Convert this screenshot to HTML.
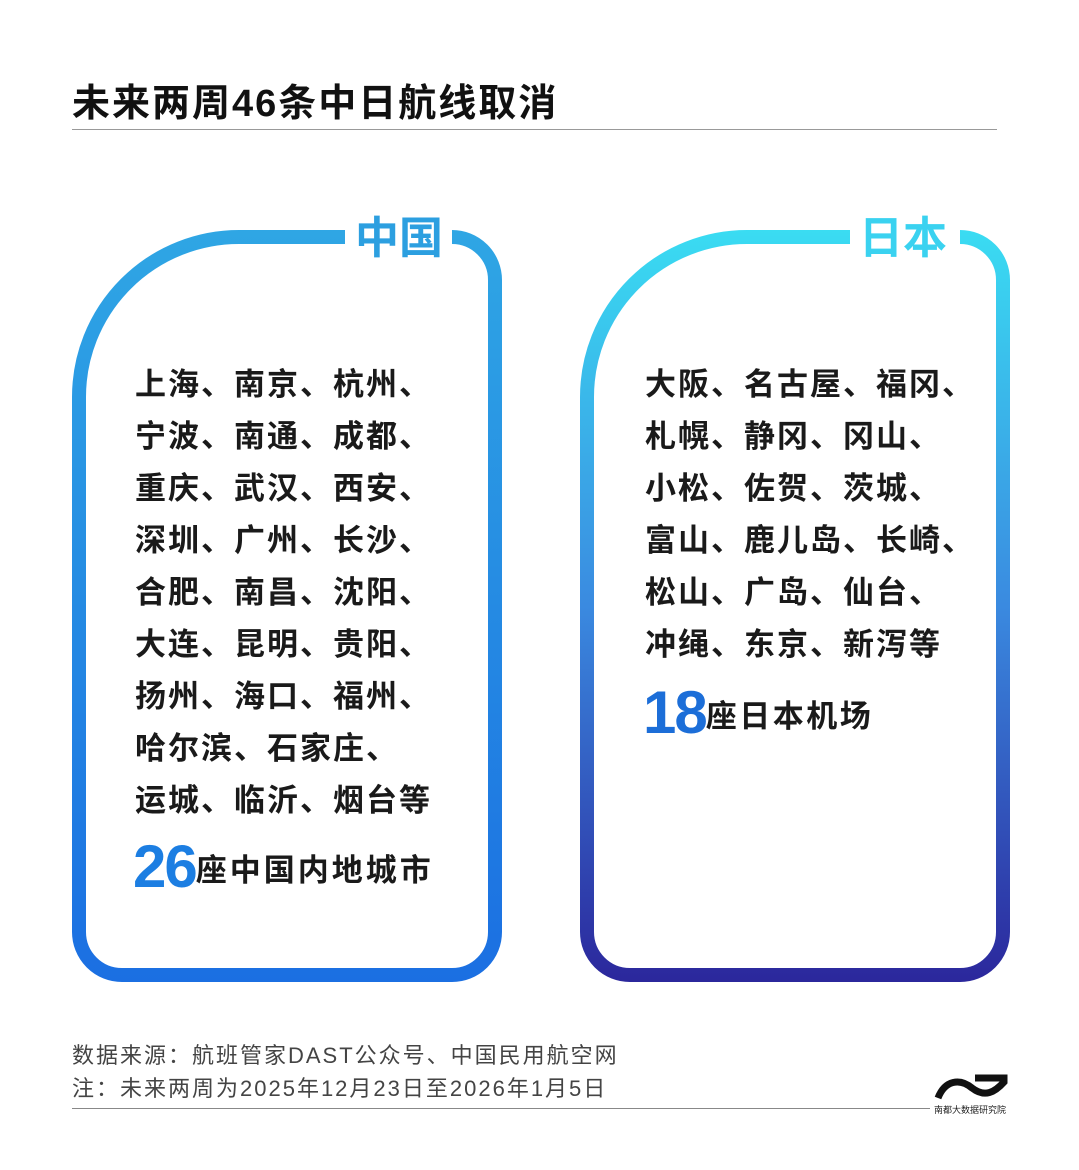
<!DOCTYPE html>
<html><head><meta charset="utf-8"><style>
body{margin:0;width:1079px;height:1170px;background:#fff;position:relative;overflow:hidden;font-family:"Liberation Sans","Noto Sans CJK SC",sans-serif}
.t{position:absolute;white-space:nowrap}
.title{left:72px;top:72px;font-size:38px;font-weight:bold;color:#111;letter-spacing:2px}
.list{font-size:31px;font-weight:bold;color:#1a1a1a;line-height:52px;letter-spacing:2px}
.foot{font-size:22px;color:#444;line-height:33px;left:72px;top:1039px;letter-spacing:2px}
</style></head><body>
<div class="t title">未来两周46条中日航线取消</div>
<div style="position:absolute;left:72px;top:129px;width:925px;height:1px;background:#999"></div>
<svg width="1079" height="1170" style="position:absolute;left:0;top:0">
<defs>
<linearGradient id="g1" gradientUnits="userSpaceOnUse" x1="0" y1="230" x2="0" y2="982"><stop offset="0" stop-color="#2fa6e4"/><stop offset="1" stop-color="#1b6fe2"/></linearGradient>
<linearGradient id="g2" gradientUnits="userSpaceOnUse" x1="0" y1="230" x2="0" y2="982"><stop offset="0" stop-color="#3adcf2"/><stop offset="0.5" stop-color="#3a8ae0"/><stop offset="1" stop-color="#2b279c"/></linearGradient>
</defs>
<path d="M452 237 A43 43 0 0 1 495 280 L495 932 A43 43 0 0 1 452 975 L122 975 A43 43 0 0 1 79 932 L79 397 A160 160 0 0 1 239 237 L345 237" fill="none" stroke="url(#g1)" stroke-width="14"/>
<path d="M960 237 A43 43 0 0 1 1003 280 L1003 932 A43 43 0 0 1 960 975 L630 975 A43 43 0 0 1 587 932 L587 397 A160 160 0 0 1 747 237 L850 237" fill="none" stroke="url(#g2)" stroke-width="14"/>
<text x="399" y="253" text-anchor="middle" font-size="44" font-weight="bold" fill="#2c9fe0" font-family="Liberation Sans, Noto Sans CJK SC, sans-serif">中国</text>
<text x="903" y="253" text-anchor="middle" font-size="44" font-weight="bold" fill="#3ad2f0" font-family="Liberation Sans, Noto Sans CJK SC, sans-serif">日本</text>
<path d="M938 1098 C945 1080 960 1078 972 1088 C985 1098 995 1092 1004 1082 L1004 1078 L975 1078" fill="none" stroke="#111" stroke-width="7"/>
<text x="970" y="1113" text-anchor="middle" font-size="9" fill="#222" font-family="Noto Sans CJK SC, sans-serif">南都大数据研究院</text>
</svg>
<div class="t list" style="left:135px;top:359px">上海、南京、杭州、<br>宁波、南通、成都、<br>重庆、武汉、西安、<br>深圳、广州、长沙、<br>合肥、南昌、沈阳、<br>大连、昆明、贵阳、<br>扬州、海口、福州、<br>哈尔滨、石家庄、<br>运城、临沂、烟台等</div>
<div class="t" style="left:133px;top:832px;font-weight:bold;color:#1a1a1a;font-size:31px;letter-spacing:3px"><span style="font-size:60px;color:#1c7ee2;letter-spacing:-2px;vertical-align:-6px">26</span>座中国内地城市</div>
<div class="t list" style="left:645px;top:359px">大阪、名古屋、福冈、<br>札幌、静冈、冈山、<br>小松、佐贺、茨城、<br>富山、鹿儿岛、长崎、<br>松山、广岛、仙台、<br>冲绳、东京、新泻等</div>
<div class="t" style="left:643px;top:678px;font-weight:bold;color:#1a1a1a;font-size:31px;letter-spacing:2.5px"><span style="font-size:60px;color:#1c6ed8;letter-spacing:-2px;vertical-align:-6px">18</span>座日本机场</div>
<div class="t foot">数据来源：航班管家DAST公众号、中国民用航空网<br>注：未来两周为2025年12月23日至2026年1月5日</div>
<div style="position:absolute;left:72px;top:1108px;width:858px;height:1px;background:#888"></div>
</body></html>
